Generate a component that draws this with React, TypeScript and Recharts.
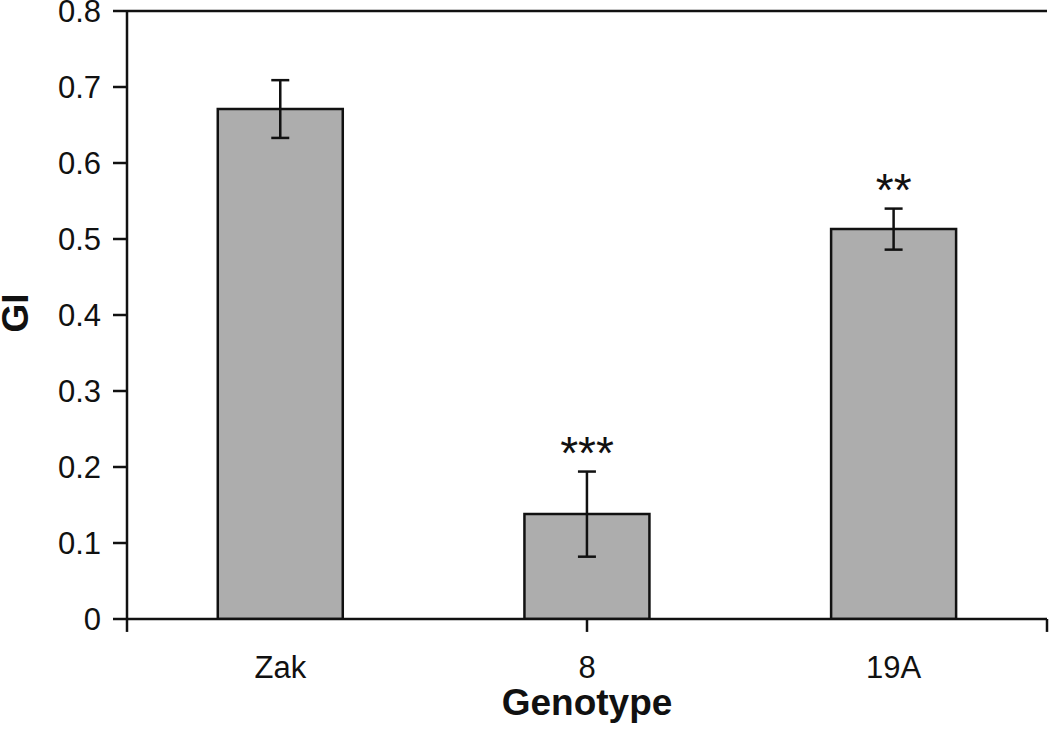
import { ComposedChart, Bar, Line, XAxis, YAxis, ErrorBar, LabelList, ReferenceLine } from "recharts";

const genotypes = ["Zak", "8", "19A"];
const giValues = [0.671, 0.138, 0.513];
const giErrors = [0.038, 0.056, 0.027];
const significance = ["", "***", "**"];
const yTicks = [0, 0.1, 0.2, 0.3, 0.4, 0.5, 0.6, 0.7, 0.8];
const edgeTicks = [0, 1, 2, 3];

const FONT = "'Liberation Sans', Arial, Helvetica, sans-serif";
const INK = "#111";
const TICK_DROP = -0.017; // tick marks hang a little below zero

const data = genotypes.map((name, i) => ({
  name,
  gi: giValues[i],
  err: giErrors[i],
  top: giValues[i] + giErrors[i],
  sig: significance[i],
}));

export default function App() {
  return (
    <div style={{ position: "absolute", left: 0, top: 0, background: "#fff" }}>
      <ComposedChart
        width={1050}
        height={734}
        data={data}
        margin={{ top: 11, right: 3, left: 0, bottom: 0 }}
        barCategoryGap="29.6%"
      >
        <XAxis
          dataKey="name"
          height={115}
          tickLine={false}
          tickSize={0}
          tickMargin={37}
          axisLine={{ stroke: INK, strokeWidth: 2.5 }}
          tick={{ fontSize: 31, fill: INK, fontFamily: FONT }}
          label={{
            content: ({ viewBox }: any) => (
              <text
                x={viewBox.x + viewBox.width / 2}
                y={viewBox.y + 96}
                textAnchor="middle"
                fontSize={37}
                fontWeight="bold"
                fontFamily={FONT}
                fill={INK}
              >
                Genotype
              </text>
            ),
          }}
        />
        <XAxis xAxisId="edge" type="number" domain={[0, 3]} hide />
        <YAxis
          width={127}
          domain={[0, 0.8]}
          ticks={yTicks}
          interval={0}
          allowDataOverflow
          tickSize={14}
          tickMargin={12}
          tickFormatter={(v: number) => (v === 0 ? "0" : v.toFixed(1))}
          axisLine={{ stroke: INK, strokeWidth: 2.5 }}
          tickLine={{ stroke: INK, strokeWidth: 2.5 }}
          tick={{ fontSize: 31, fill: INK, fontFamily: FONT }}
          label={{
            content: ({ viewBox }: any) => {
              const cx = 28;
              const cy = viewBox.y + viewBox.height / 2 - 2;
              return (
                <text
                  x={cx}
                  y={cy}
                  transform={`rotate(-90, ${cx}, ${cy})`}
                  textAnchor="middle"
                  fontSize={37}
                  fontWeight="bold"
                  fontFamily={FONT}
                  fill={INK}
                >
                  GI
                </text>
              );
            },
          }}
        />
        <ReferenceLine y={0.8} stroke={INK} strokeWidth={2.5} />
        <ReferenceLine xAxisId="edge" x={3} stroke={INK} strokeWidth={2.5} />
        {edgeTicks.map((t) => (
          <ReferenceLine
            key={t}
            xAxisId="edge"
            ifOverflow="visible"
            segment={[
              { x: t, y: 0 },
              { x: t, y: TICK_DROP },
            ]}
            stroke={INK}
            strokeWidth={2.5}
          />
        ))}
        <Bar dataKey="gi" fill="#adadad" stroke={INK} strokeWidth={2.5} isAnimationActive={false}>
          <ErrorBar dataKey="err" direction="y" width={9} stroke={INK} strokeWidth={2.5} />
        </Bar>
        <Line
          dataKey="top"
          stroke="none"
          dot={false}
          activeDot={false}
          isAnimationActive={false}
        >
          <LabelList
            dataKey="sig"
            position="top"
            offset={3}
            fontSize={46}
            fontFamily={FONT}
            fill={INK}
          />
        </Line>
      </ComposedChart>
    </div>
  );
}
